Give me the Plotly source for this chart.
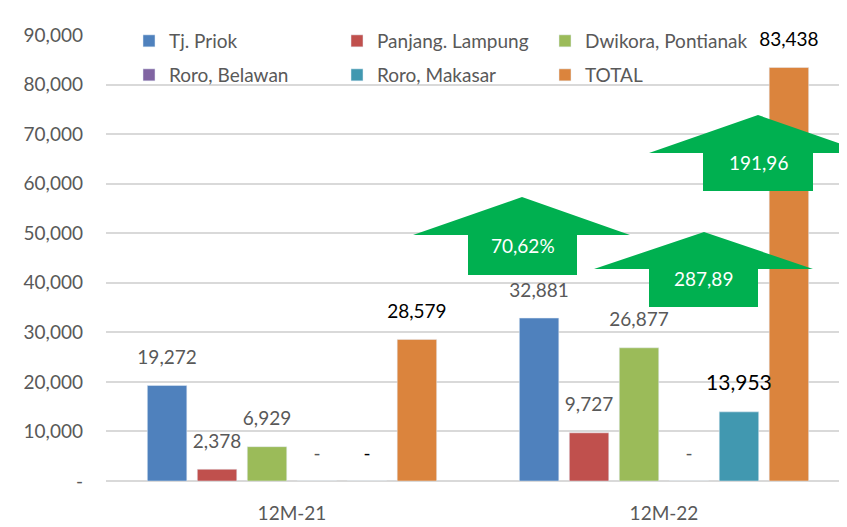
import plotly.graph_objects as go

categories = ["12M-21", "12M-22"]
series_names = ["Tj. Priok", "Panjang. Lampung", "Dwikora, Pontianak",
                "Roro, Belawan", "Roro, Makasar", "TOTAL"]
tj_priok = [19272, 32881]
panjang_lampung = [2378, 9727]
dwikora_pontianak = [6929, 26877]
roro_belawan = [0, 0]
roro_makasar = [0, 13953]
total = [28579, 83438]
series_values = [tj_priok, panjang_lampung, dwikora_pontianak,
                 roro_belawan, roro_makasar, total]
growth_labels = ["70,62%", "287,89", "191,96"]
y_tickvals = [0, 10000, 20000, 30000, 40000, 50000, 60000, 70000, 80000, 90000]
y_ticktext = ["-", "10,000", "20,000", "30,000", "40,000", "50,000",
              "60,000", "70,000", "80,000", "90,000"]

colors = ["#4F81BD", "#C0504D", "#9BBB59", "#8064A2", "#4198B0", "#DB843D"]
GRAY = "#595959"
FONT = "Lato"

# label styles per series (colour / size per category)
label_colors = [[GRAY, GRAY], [GRAY, GRAY], [GRAY, GRAY],
                [GRAY, GRAY], ["#000000", "#000000"], ["#000000", "#000000"]]
label_sizes = [[19, 19], [19, 19], [19, 19], [19, 19], [19, 21], [19, 19]]

# the page body adds an 8px offset; plot box wanted at x 106..850, y 35..481 on screen
W, H = 847, 527
OFF = 8
LEFT, RIGHT, TOP, BOTTOM = 106, 850, 35, 481
ML, MT = LEFT - OFF, TOP - OFF
MR, MB = W - (RIGHT - OFF), H - (BOTTOM - OFF)
PW, PH = RIGHT - LEFT, BOTTOM - TOP
BARGAP = 0.194


def fmt(v):
    return "-" if v == 0 else f"{v:,}"


def px(x):
    return (x - LEFT) / PW


def py(y):
    return (BOTTOM - y) / PH


fig = go.Figure()
for i, (name, vals) in enumerate(zip(series_names, series_values)):
    fig.add_trace(go.Bar(
        x=categories, y=vals, name=name, marker_color=colors[i],
        legend="legend" if i < 3 else "legend2",
    ))
for i, vals in enumerate(series_values):
    fig.add_trace(go.Scatter(
        x=categories, y=vals, mode="markers+text",
        text=[fmt(v) for v in vals], textposition="top center",
        marker=dict(size=25, color="rgba(0,0,0,0)"),
        textfont=dict(family=FONT, color=label_colors[i], size=label_sizes[i]),
        showlegend=False, hoverinfo="skip", cliponaxis=False,
    ))

# green growth arrows in screen pixels: tip_x, tip_y, wing_l, wing_r, wing_y, body_l, body_r, bottom
arrows = [
    (522, 197, 413, 630, 235, 468, 577, 275),
    (704, 232, 594, 813, 269, 649, 758, 307),
    (758, 115, 649, 867, 153, 703, 813, 191),
]
for (tx, ty, wl, wr, wy, bl, br, bb), label in zip(arrows, growth_labels):
    path = (f"M{px(wl)},{py(wy)} L{px(tx)},{py(ty)} L{px(wr)},{py(wy)} "
            f"L{px(br)},{py(wy)} L{px(br)},{py(bb)} L{px(bl)},{py(bb)} "
            f"L{px(bl)},{py(wy)} Z")
    fig.add_shape(type="path", path=path, xref="paper", yref="paper",
                  fillcolor="#00B050", line_width=0, layer="above")
    fig.add_annotation(x=px((bl + br) / 2), y=py((wy + bb) / 2 - 10),
                       xref="paper", yref="paper", xanchor="center", yanchor="middle",
                       text=label, showarrow=False,
                       font=dict(family=FONT, size=19, color="white"))

legend_style = dict(
    orientation="h", x=px(129), xanchor="left", yanchor="middle", entrywidth=163,
    font=dict(family=FONT, size=19, color=GRAY), bgcolor="rgba(0,0,0,0)",
)
fig.update_layout(
    width=W, height=H,
    margin=dict(l=ML, r=MR, t=MT, b=MB, autoexpand=False),
    plot_bgcolor="white", paper_bgcolor="white",
    barmode="group", bargap=BARGAP, bargroupgap=0.21,
    scattermode="group", scattergap=BARGAP,
    font=dict(family=FONT, size=19, color=GRAY),
    legend=dict(legend_style, y=py(41)),
    legend2=dict(legend_style, y=py(75)),
)
fig.update_xaxes(range=[-0.5, 1.5], showgrid=False, showline=False, zeroline=False,
                 ticks="", ticklabelstandoff=19, automargin=False,
                 tickfont=dict(family=FONT, size=19, color=GRAY))
fig.update_yaxes(range=[0, 90000], tickvals=y_tickvals, ticktext=y_ticktext,
                 showgrid=True, gridcolor="#D9D9D9", gridwidth=1.5,
                 zeroline=True, zerolinecolor="#D9D9D9", zerolinewidth=1.5,
                 ticks="", ticklabelstandoff=22, automargin=False,
                 tickfont=dict(family=FONT, size=19, color=GRAY))

fig.write_html("out.html")
